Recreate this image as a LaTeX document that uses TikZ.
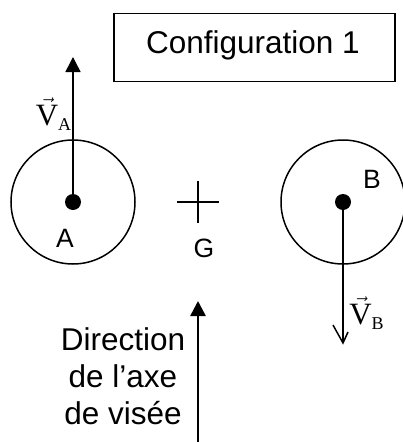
\documentclass[tikz,border=0pt]{standalone}
\usepackage{fontspec}
\setmainfont{Liberation Sans}
\newfontfamily\timesf{Liberation Serif}
\usetikzlibrary{arrows.meta}
\tikzset{
  x=1pt,y=-1pt,
  ring/.style={draw,circle,line width=1.5pt,minimum size=124pt,inner sep=0pt},
  dotm/.style={fill,circle,minimum size=16pt,inner sep=0pt},
  lab/.style={inner sep=0pt,font=\fontsize{26.5}{26.5}\selectfont},
  big/.style={inner sep=0pt,align=center,font=\fontsize{31.5}{37}\selectfont},
  vel/.style={inner sep=0pt,font=\timesf\fontsize{31}{31}\selectfont},
  conn/.style={line width=1.5pt},
  solidtip/.style={-{Triangle[length=15pt,width=15pt]}}
}
\newcommand{\velab}[1]{$\vec{\mbox{V}}$\raisebox{-5pt}{\fontsize{18}{18}\selectfont #1}}
\begin{document}
\begin{tikzpicture}
\useasboundingbox (0,0) rectangle (402,442);
\node[draw,line width=1.3pt,minimum width=281pt,minimum height=68pt,inner sep=0pt] (title) at (254.5,47.5) {};
\node[big] (titletext) at (253,45) {Configuration 1};
\node[ring] (A) at (73,202) {};
\node[ring] (B) at (343,202) {};
\node[dotm] (a0) at (73,202) {};
\node[dotm] (b0) at (343,202) {};
\coordinate (atip) at (73,57);
\coordinate (btip) at (343,343);
\coordinate (bl) at (333,325);
\coordinate (br) at (348,332);
\draw[conn,solidtip] (a0.center) -- (atip);
\draw[conn] (b0.center) -- (btip);
\draw[conn,line join=miter] (bl) -- (btip) -- (br);
\node[vel] (VA) at (53.5,114) {\velab{A}};
\node[vel] (VB) at (366.5,313) {\velab{B}};
\node[lab] (Alab) at (65,238) {A};
\node[lab] (Blab) at (372,179.5) {B};
\node[lab] (Glab) at (204,248) {G};
\coordinate (g1) at (177,202);
\coordinate (g2) at (219,202);
\coordinate (g3) at (198,181);
\coordinate (g4) at (198,223);
\draw[line width=1.1pt] (g1) -- (g2);
\draw[line width=1.1pt] (g3) -- (g4);
\coordinate (v1) at (198,442);
\coordinate (v2) at (198,301);
\draw[line width=2.6pt,solidtip] (v1) -- (v2);
\node[big] (dir) at (123,376) {Direction\\de l’axe\\de visée};
\end{tikzpicture}
\end{document}
